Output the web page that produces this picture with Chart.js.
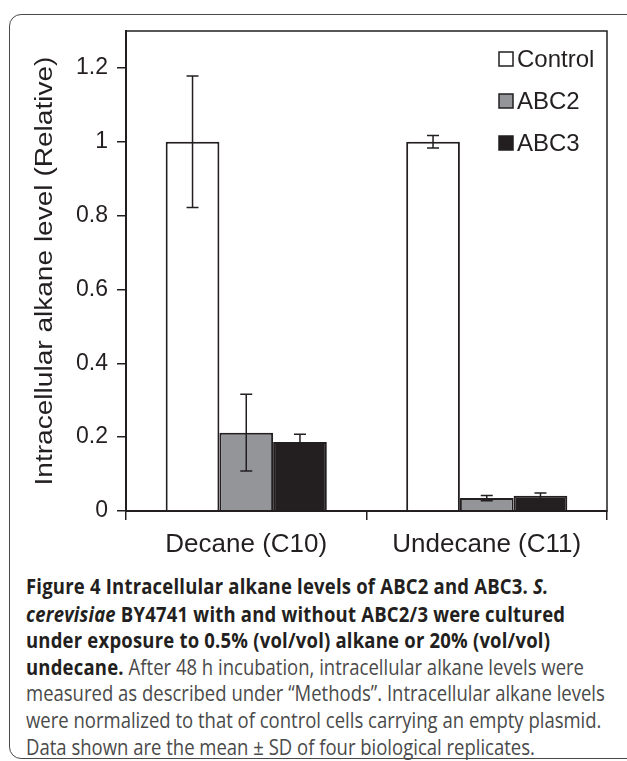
<!DOCTYPE html>
<html>
<head>
<meta charset="utf-8">
<script src="https://cdn.jsdelivr.net/npm/chart.js@4.4.1/dist/chart.umd.min.js"></script>
<style>
  html, body { margin: 0; padding: 0; background: #fff; overflow: hidden; }
  body { width: 627px; height: 761px; position: relative; }
  #frame {
    position: absolute; left: 9px; top: 14px; width: 700px; height: 743px;
    border: 1.5px solid #4a4a4a; border-radius: 12px;
  }
  #chartBox { position: absolute; left: 0; top: 0; width: 627px; height: 570px; }
  #caption {
    position: absolute; left: 26px; top: 573px; width: 600px;
    font-family: 'Open Sans', sans-serif; font-size: 18.5px; line-height: 23.6px;
    color: #4a4a4a; white-space: nowrap;
    transform: scaleY(1.13); transform-origin: top left;
  }
  #caption b { color: #231f20; font-weight: 700; letter-spacing: 0.2px; }
</style>
</head>
<body>
<div id="frame"></div>
<div id="chartBox"><canvas id="alkaneChart"></canvas></div>
<div id="caption">
  <b>Figure 4 Intracellular alkane levels of ABC2 and ABC3. <i>S.</i></b><br>
  <b><i>cerevisiae</i> BY4741 with and without ABC2/3 were cultured</b><br>
  <b>under exposure to 0.5% (vol/vol) alkane or 20% (vol/vol)</b><br>
  <b>undecane.</b> After 48 h incubation, intracellular alkane levels were<br>
  measured as described under “Methods”. Intracellular alkane levels<br>
  were normalized to that of control cells carrying an empty plasmid.<br>
  Data shown are the mean ± SD of four biological replicates.
</div>
<script>
// Data
const categories = ['Decane (C10)', 'Undecane (C11)'];
const controlVals = [1.0, 1.0];
const controlSD = [0.178, 0.017];
const abc2Vals = [0.212, 0.035];
const abc2SD = [0.104, 0.007];
const abc3Vals = [0.187, 0.041];
const abc3SD = [0.021, 0.008];
const yTicks = [0, 0.2, 0.4, 0.6, 0.8, 1, 1.2];
const yTitle = 'Intracellular alkane level (Relative)';

const ink = '#231f20';

// Error bars (mean ± SD) drawn through the y scale
const errorBars = {
  id: 'errorBars',
  afterDatasetsDraw(chart) {
    const ctx = chart.ctx;
    const y = chart.scales.y;
    ctx.save();
    ctx.strokeStyle = ink;
    ctx.lineWidth = 1.5;
    chart.data.datasets.forEach((ds, i) => {
      const meta = chart.getDatasetMeta(i);
      meta.data.forEach((bar, j) => {
        const v = ds.data[j], sd = ds.sd[j];
        const top = y.getPixelForValue(v + sd);
        const bot = y.getPixelForValue(v - sd);
        const x = bar.x;
        ctx.beginPath();
        ctx.moveTo(x, top); ctx.lineTo(x, bot);
        ctx.moveTo(x - 6, top); ctx.lineTo(x + 6, top);
        ctx.moveTo(x - 6, bot); ctx.lineTo(x + 6, bot);
        ctx.stroke();
      });
    });
    ctx.restore();
  }
};

// Box round the plot area, legend inside it, stretched y title
const frameAndLegend = {
  id: 'frameAndLegend',
  afterDraw(chart) {
    const ctx = chart.ctx;
    const a = chart.chartArea;
    ctx.save();
    ctx.strokeStyle = ink;
    ctx.lineWidth = 1.5;
    ctx.strokeRect(a.left, a.top, a.right - a.left, a.bottom - a.top);

    // legend
    ctx.font = '24px "Liberation Sans", Arial, sans-serif';
    ctx.textBaseline = 'middle';
    chart.data.datasets.forEach((ds, i) => {
      const cy = 59 + i * 42;
      ctx.fillStyle = ds.backgroundColor;
      ctx.fillRect(499, cy - 7, 14, 14);
      ctx.strokeRect(499, cy - 7, 14, 14);
      ctx.fillStyle = ink;
      ctx.fillText(ds.label, 517, cy + 1);
    });

    // y title
    ctx.translate(46, (a.top + a.bottom) / 2);
    ctx.rotate(-Math.PI / 2);
    ctx.scale(1.22, 1);
    ctx.font = '23px "Liberation Sans", Arial, sans-serif';
    ctx.textAlign = 'center';
    ctx.textBaseline = 'middle';
    ctx.fillStyle = ink;
    ctx.fillText(yTitle, 0, 0);
    ctx.restore();
  }
};

const ctx = document.getElementById('alkaneChart').getContext('2d');
const alkaneChart = new Chart(ctx, {
  type: 'bar',
  data: {
    labels: categories,
    datasets: [
      { label: 'Control', data: controlVals, sd: controlSD, backgroundColor: '#ffffff' },
      { label: 'ABC2', data: abc2Vals, sd: abc2SD, backgroundColor: '#939598' },
      { label: 'ABC3', data: abc3Vals, sd: abc3SD, backgroundColor: ink }
    ]
  },
  options: {
    responsive: true,
    maintainAspectRatio: false,
    animation: false,
    layout: { padding: { top: 31, right: 20, left: 0, bottom: 0 } },
    datasets: {
      bar: {
        borderColor: ink,
        borderWidth: 2,
        categoryPercentage: 0.67,
        barPercentage: 1.0
      }
    },
    plugins: {
      legend: { display: false },
      tooltip: { enabled: false }
    },
    scales: {
      x: {
        afterFit: s => { s.height = 59; },
        grid: { drawOnChartArea: false, color: ink, lineWidth: 1.5, tickLength: 9, offset: true },
        border: { color: ink, width: 2 },
        ticks: {
          color: ink, padding: 9,
          font: { family: '"Liberation Sans", Arial, sans-serif', size: 26 }
        }
      },
      y: {
        min: 0,
        max: 1.3,
        afterFit: s => { s.width = 126; },
        afterBuildTicks: s => { s.ticks = yTicks.map(v => ({ value: v })); },
        grid: { drawOnChartArea: false, color: ink, lineWidth: 1.5, tickLength: 9 },
        border: { color: ink, width: 2 },
        ticks: {
          color: ink, padding: 9,
          callback: v => String(v),
          font: { family: '"Liberation Sans", Arial, sans-serif', size: 23 }
        }
      }
    }
  },
  plugins: [errorBars, frameAndLegend]
});
</script>
</body>
</html>
